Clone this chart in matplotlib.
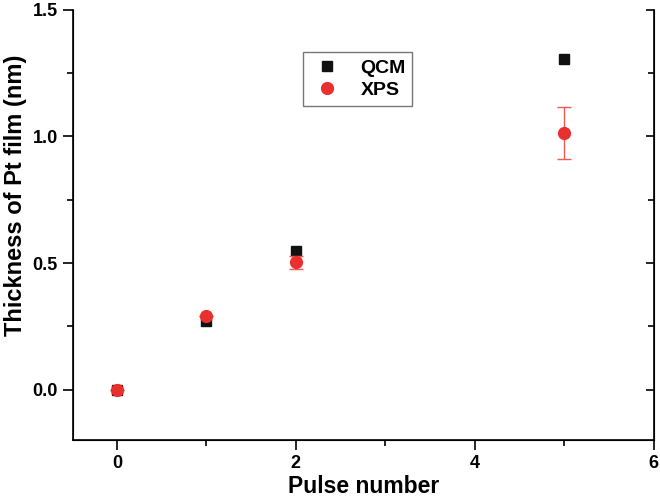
import numpy as np
import matplotlib; matplotlib.use('Agg')
import matplotlib.pyplot as plt
from matplotlib.ticker import MultipleLocator

plt.rcParams['font.family'] = ['Liberation Sans', 'DejaVu Sans']

# data
pulses   = [0, 1, 2, 5]
qcm      = [0.0, 0.272, 0.548, 1.305]
xps      = [0.0, 0.289, 0.502, 1.014]
xps_err  = [0.0, 0.0, 0.026, 0.104]

fig = plt.figure(figsize=(6.6, 4.99), dpi=100)
ax = fig.add_axes([0.1106, 0.118, 0.880, 0.862])

ax.plot(pulses, qcm, 's', color='#111111', ms=7, label='QCM', zorder=3)
ax.errorbar(pulses, xps, yerr=xps_err, fmt='none', ecolor='#EE5A55',
            elinewidth=1.0, capsize=5, capthick=1.0, zorder=4)
ax.plot(pulses, xps, 'o', color='#E8302F', ms=8.5, label='XPS', zorder=5)

ax.set_xlim(-0.49, 6.0)
ax.set_ylim(-0.2, 1.5)
ax.xaxis.set_major_locator(MultipleLocator(2))
ax.xaxis.set_minor_locator(MultipleLocator(1))
ax.yaxis.set_major_locator(MultipleLocator(0.5))
ax.yaxis.set_minor_locator(MultipleLocator(0.25))
ax.yaxis.set_major_formatter(plt.FormatStrFormatter('%.1f'))

ax.spines['top'].set_visible(False)
for s in ['left', 'bottom', 'right']:
    ax.spines[s].set_linewidth(1.2)
ax.tick_params(which='both', direction='out', width=1.2, labelsize=13, pad=4)
ax.tick_params(which='major', length=7)
ax.tick_params(which='minor', length=4)
for lbl in ax.get_xticklabels() + ax.get_yticklabels():
    lbl.set_fontweight('bold')

# inward ticks on the right spine
ax2 = ax.twinx()
ax2.set_ylim(ax.get_ylim())
ax2.yaxis.set_major_locator(MultipleLocator(0.5))
ax2.yaxis.set_minor_locator(MultipleLocator(0.25))
ax2.tick_params(which='both', direction='in', width=1.2, labelright=False)
ax2.tick_params(which='major', length=6)
ax2.tick_params(which='minor', length=4)
ax2.spines['top'].set_visible(False)

ax.set_xlabel('Pulse number', fontsize=16.5, fontweight='bold', labelpad=2)
ax.set_ylabel('Thickness of Pt film (nm)', fontsize=17, fontweight='bold', labelpad=6)
ax.yaxis.set_label_coords(-0.08, 0.57)

leg = ax.legend(loc='upper left', bbox_to_anchor=(0.396, 0.902), frameon=True,
                borderaxespad=0, fancybox=False, edgecolor='#555555',
                prop={'weight': 'bold', 'size': 14},
                handletextpad=0.8, borderpad=0.35, labelspacing=0.25, handlelength=1.8)
leg.get_frame().set_linewidth(1.0)

fig.savefig('out.png', dpi=100)
